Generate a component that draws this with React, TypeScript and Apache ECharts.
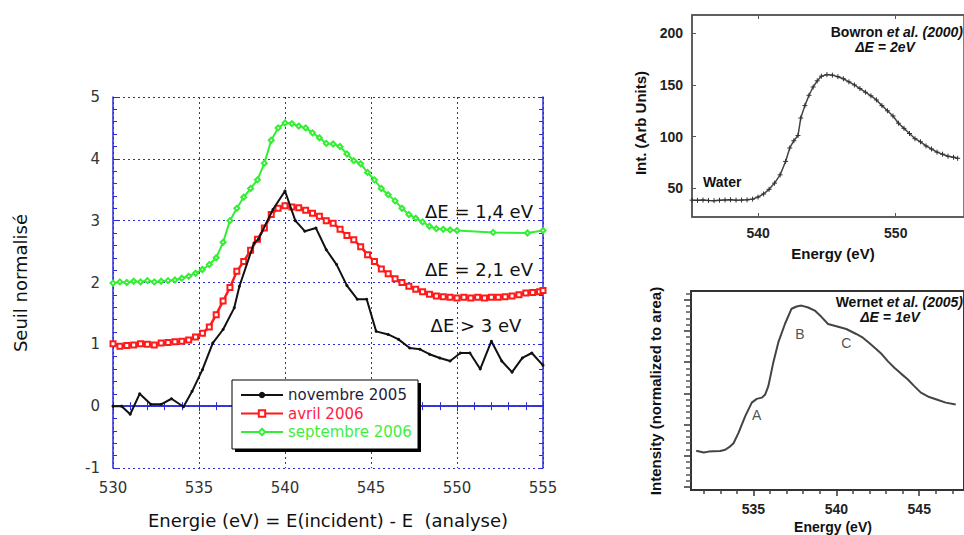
import React, { useEffect, useRef } from 'react';
import * as echarts from 'echarts';

// ---- Main chart (Seuil normalisé) ----
const novX = [530, 530.5, 531.0, 531.55, 532.2, 532.8, 533.4, 534.1, 534.6, 535.2, 535.8, 536.4, 537.05, 537.35, 538.2, 538.45, 539.3, 540.0, 540.6, 541.15, 541.8, 542.4, 543.0, 543.6, 544.2, 544.75, 545.3, 546.0, 546.6, 547.25, 547.85, 548.4, 549.0, 549.6, 550.2, 550.75, 551.35, 552.0, 552.6, 553.2, 553.8, 554.35, 555.0];
const novY = [0, 0, -0.13, 0.2, 0.03, 0.03, 0.12, -0.01, 0.24, 0.59, 1.02, 1.24, 1.59, 1.94, 2.64, 2.7, 3.18, 3.48, 3.0, 2.83, 2.88, 2.53, 2.29, 1.95, 1.73, 1.73, 1.21, 1.16, 1.08, 0.94, 0.92, 0.84, 0.78, 0.73, 0.86, 0.86, 0.6, 1.05, 0.73, 0.55, 0.78, 0.86, 0.66];

const avrX = [530.0, 530.4, 530.8, 531.2, 531.6, 532.0, 532.4, 532.8, 533.2, 533.6, 534.0, 534.4, 534.8, 535.2, 535.6, 536.0, 536.4, 536.8, 537.2, 537.6, 538.0, 538.4, 538.8, 539.2, 539.6, 540.0, 540.4, 540.8, 541.2, 541.6, 542.0, 542.4, 542.8, 543.2, 543.6, 544.0, 544.4, 544.8, 545.2, 545.6, 546.0, 546.4, 546.8, 547.2, 547.6, 548.0, 548.4, 548.8, 549.2, 549.6, 550.0, 550.4, 550.8, 551.2, 551.6, 552.0, 552.4, 552.8, 553.2, 553.6, 554.0, 554.4, 554.8, 555.0];
const avrY = [1.01, 0.97, 0.98, 0.99, 1.01, 1.0, 0.99, 1.02, 1.03, 1.04, 1.05, 1.07, 1.12, 1.18, 1.28, 1.48, 1.7, 1.92, 2.18, 2.34, 2.52, 2.7, 2.88, 3.1, 3.2, 3.24, 3.22, 3.21, 3.17, 3.12, 3.07, 3.0, 2.96, 2.86, 2.76, 2.69, 2.58, 2.45, 2.34, 2.22, 2.14, 2.06, 2.0, 1.94, 1.89, 1.85, 1.81, 1.78, 1.77, 1.76, 1.75, 1.76, 1.75, 1.76, 1.75, 1.76, 1.76, 1.77, 1.78, 1.8, 1.83, 1.84, 1.85, 1.87];

const sepX = [530.0, 530.4, 530.8, 531.2, 531.6, 532.0, 532.4, 532.8, 533.2, 533.6, 534.0, 534.4, 534.8, 535.2, 535.6, 536.0, 536.4, 536.8, 537.2, 537.6, 538.0, 538.4, 538.8, 539.2, 539.6, 540.0, 540.4, 540.8, 541.2, 541.6, 542.0, 542.4, 542.8, 543.2, 543.6, 544.0, 544.4, 544.8, 545.2, 545.6, 546.0, 546.4, 546.8, 547.2, 547.6, 548.0, 548.4, 548.8, 549.2, 549.6, 550.0, 552.1, 554.1, 555.0];
const sepY = [1.99, 2.01, 2.0, 2.02, 2.01, 2.03, 2.01, 2.02, 2.03, 2.04, 2.07, 2.1, 2.15, 2.21, 2.29, 2.4, 2.65, 3.0, 3.2, 3.38, 3.52, 3.66, 3.93, 4.3, 4.5, 4.58, 4.57, 4.53, 4.5, 4.42, 4.34, 4.25, 4.24, 4.2, 4.08, 3.97, 3.92, 3.78, 3.66, 3.52, 3.42, 3.32, 3.2, 3.1, 3.04, 2.98, 2.91, 2.87, 2.86, 2.85, 2.84, 2.81, 2.8, 2.84];

const seriesNames = ['novembre 2005', 'avril 2006', 'septembre 2006'];
const annotations = ['ΔE = 1,4 eV', 'ΔE = 2,1 eV', 'ΔE > 3 eV'];

// ---- Bowron et al. (2000) ----
const bowX = [535.2, 535.6, 536.0, 536.4, 536.8, 537.2, 537.6, 538.0, 538.4, 538.8, 539.2, 539.6, 540.0, 540.4, 540.8, 541.2, 541.6, 542.0, 542.3, 542.6, 542.9, 543.1, 543.4, 543.7, 544.0, 544.3, 544.6, 545.0, 545.4, 545.8, 546.2, 546.6, 547.0, 547.4, 547.8, 548.2, 548.6, 549.0, 549.4, 549.8, 550.2, 550.6, 551.0, 551.4, 551.8, 552.2, 552.6, 553.0, 553.4, 553.8, 554.2, 554.5];
const bowY = [38.5, 38.3, 38.6, 38.2, 38.0, 38.4, 38.7, 39.0, 38.5, 38.6, 38.8, 39.5, 41.5, 44.5, 49, 55, 63, 76, 89, 96, 101, 118, 130, 140, 148, 154, 158.5, 160, 159.5, 158, 156, 153, 150, 146.5, 143, 139.5, 135.5, 130, 125, 120, 113, 108, 103, 98, 95, 91, 88, 85, 83, 81, 80, 79];
const bowXTicks = [540, 550];
const bowYTicks = [50, 100, 150, 200];

// ---- Wernet et al. (2005) ----
const werX = [531.55, 532.0, 532.3, 532.6, 533.0, 533.3, 533.6, 533.8, 534.1, 534.5, 534.9, 535.2, 535.5, 535.7, 535.9, 536.2, 536.5, 536.9, 537.3, 537.6, 537.9, 538.3, 538.7, 539.1, 539.5, 540.0, 540.6, 541.2, 541.6, 541.95, 542.4, 542.75, 543.1, 543.5, 543.9, 544.3, 544.7, 545.1, 545.6, 546.05, 546.6, 547.2];
const werY = [1.26, 1.2, 1.23, 1.24, 1.25, 1.29, 1.4, 1.5, 1.83, 2.36, 2.8, 2.92, 2.96, 3.05, 3.33, 4.09, 4.73, 5.32, 5.81, 5.88, 5.91, 5.85, 5.75, 5.55, 5.32, 5.25, 5.16, 5.0, 4.88, 4.73, 4.52, 4.35, 4.13, 3.92, 3.73, 3.55, 3.33, 3.12, 2.98, 2.9, 2.8, 2.74];
const werXTicks = [535, 540, 545];
const werXMinor = [532, 533, 534, 536, 537, 538, 539, 541, 542, 543, 544, 546, 547];
const werYMajor = [0.1, 1.1, 2.1, 3.1, 4.1, 5.1, 6.1];
const werYMinor = [0.3, 0.5, 0.7, 0.9, 1.3, 1.5, 1.7, 1.9, 2.3, 2.5, 2.7, 2.9, 3.3, 3.5, 3.7, 3.9, 4.3, 4.5, 4.7, 4.9, 5.3, 5.5, 5.7, 5.9, 6.3];
const peakLabels = ['A', 'B', 'C'];
const peakX = [535.2, 537.8, 540.6];
const peakY = [2.4, 5.0, 4.7];

const zip = (xs: number[], ys: number[]) => xs.slice(0, Math.min(xs.length, ys.length)).map((x, i) => [x, ys[i]]);

const FONT = '"Liberation Sans", Arial, sans-serif';
const WIDE = '"DejaVu Sans", "Liberation Sans", sans-serif';
const BLUE = '#2b2bd9';

export default function App() {
  const ref = useRef<HTMLDivElement>(null);
  useEffect(() => {
    if (!ref.current) return;
    const chart = echarts.init(ref.current, undefined, { renderer: 'svg' });

    const mainTick = { show: true, inside: true, length: 5, lineStyle: { color: BLUE, width: 1 } };
    const mainMinor = { show: true, splitNumber: 5, length: 4, lineStyle: { color: BLUE, width: 1 } };
    const mainLine = { show: true, lineStyle: { color: BLUE, width: 1.5 } };
    const mainSplit = { show: true, lineStyle: { color: BLUE, width: 1, type: [2, 3] } };
    const grayLine = (c: string, w: number) => ({ show: true, lineStyle: { color: c, width: w } });

    const option: any = {
      animation: false,
      backgroundColor: '#ffffff',
      textStyle: { fontFamily: FONT },
      grid: [
        { left: 113, top: 97, width: 430, height: 371 },
        { left: 692, top: 15, width: 280, height: 202, show: true, borderColor: '#555', borderWidth: 1.5, backgroundColor: 'transparent' },
        { left: 691, top: 291, width: 280, height: 199, show: true, borderColor: '#333', borderWidth: 2, backgroundColor: 'transparent' },
      ],
      xAxis: [
        {
          type: 'value', gridIndex: 0, position: 'bottom', min: 530, max: 555, interval: 5,
          axisLine: mainLine, axisTick: mainTick, minorTick: mainMinor, splitLine: mainSplit,
          axisLabel: { margin: 12, fontSize: 15, color: '#333', fontFamily: WIDE },
        },
        {
          type: 'value', gridIndex: 0, position: 'top', min: 530, max: 555, interval: 5,
          axisLine: mainLine, axisTick: mainTick, minorTick: mainMinor, splitLine: { show: false },
          axisLabel: { show: false },
        },
        {
          type: 'value', gridIndex: 1, position: 'bottom', min: 535.2, max: 554.96,
          axisLine: grayLine('#555', 1.5),
          axisTick: { show: true, inside: true, length: 4, customValues: bowXTicks, lineStyle: { color: '#555' } },
          axisLabel: { customValues: bowXTicks, margin: 9, fontSize: 14, fontWeight: 'bold', color: '#222', fontFamily: FONT },
          splitLine: { show: false },
        },
        {
          type: 'value', gridIndex: 1, position: 'top', min: 535.2, max: 554.96,
          axisLine: grayLine('#555', 1.5),
          axisTick: { show: true, inside: true, length: 4, customValues: bowXTicks, lineStyle: { color: '#555' } },
          axisLabel: { show: false }, splitLine: { show: false },
        },
        {
          type: 'value', gridIndex: 2, position: 'bottom', min: 531.235, max: 547.7,
          axisLine: grayLine('#333', 2),
          axisTick: { show: true, inside: false, length: 6, customValues: werXTicks, lineStyle: { color: '#333', width: 1.5 } },
          axisLabel: { customValues: werXTicks, margin: 12, fontSize: 14, fontWeight: 'bold', color: '#222', fontFamily: FONT },
          splitLine: { show: false },
        },
        {
          type: 'value', gridIndex: 2, position: 'bottom', min: 531.235, max: 547.7,
          axisLine: { show: false },
          axisTick: { show: true, inside: false, length: 4, customValues: werXMinor, lineStyle: { color: '#444', width: 1.5 } },
          axisLabel: { show: false }, splitLine: { show: false },
        },
      ],
      yAxis: [
        {
          type: 'value', gridIndex: 0, position: 'left', min: -1, max: 5, interval: 1,
          axisLine: mainLine, axisTick: mainTick, minorTick: mainMinor, splitLine: mainSplit,
          axisLabel: { margin: 13, fontSize: 15, color: '#333', fontFamily: WIDE },
        },
        {
          type: 'value', gridIndex: 0, position: 'right', min: -1, max: 5, interval: 1,
          axisLine: mainLine, axisTick: mainTick, minorTick: mainMinor, splitLine: { show: false },
          axisLabel: { show: false },
        },
        {
          type: 'value', gridIndex: 1, position: 'left', min: 22.2, max: 217.7,
          axisLine: grayLine('#555', 1.5),
          axisTick: { show: true, inside: true, length: 4, customValues: bowYTicks, lineStyle: { color: '#555' } },
          axisLabel: { customValues: bowYTicks, margin: 9, fontSize: 14, fontWeight: 'bold', color: '#222', fontFamily: FONT },
          splitLine: { show: false },
        },
        {
          type: 'value', gridIndex: 2, position: 'left', min: 0, max: 6.378,
          axisLine: grayLine('#333', 2),
          axisTick: { show: true, inside: false, length: 7, customValues: werYMajor, lineStyle: { color: '#333', width: 1.5 } },
          axisLabel: { show: false }, splitLine: { show: false },
        },
        {
          type: 'value', gridIndex: 2, position: 'left', min: 0, max: 6.378,
          axisLine: { show: false },
          axisTick: { show: true, inside: false, length: 5, customValues: werYMinor, lineStyle: { color: '#555', width: 1.5 } },
          axisLabel: { show: false }, splitLine: { show: false },
        },
      ],
      legend: {
        orient: 'vertical', left: 240, top: 387, padding: 0, itemGap: 2.5, itemWidth: 42, itemHeight: 8,
        textStyle: { fontSize: 15, fontFamily: WIDE, lineHeight: 16, padding: [0, 0, 0, 0] },
        data: [
          { name: seriesNames[0], textStyle: { color: '#1e1e3c' } },
          { name: seriesNames[1], textStyle: { color: '#ff2244' } },
          { name: seriesNames[2], textStyle: { color: '#40ee40' } },
        ],
      },
      series: [
        {
          name: seriesNames[2], type: 'line', xAxisIndex: 0, yAxisIndex: 0, data: zip(sepX, sepY),
          symbol: 'emptyDiamond', symbolSize: 5, lineStyle: { color: '#33ee33', width: 2 },
          itemStyle: { color: '#33ee33', borderColor: '#33ee33', borderWidth: 1 }, z: 3,
        },
        {
          name: seriesNames[1], type: 'line', xAxisIndex: 0, yAxisIndex: 0, data: zip(avrX, avrY),
          symbol: 'emptyRect', symbolSize: 5, lineStyle: { color: '#ff1a1a', width: 2.5 },
          itemStyle: { color: '#ff1a1a', borderColor: '#ff1a1a', borderWidth: 1.2 }, z: 4,
        },
        {
          name: seriesNames[0], type: 'line', xAxisIndex: 0, yAxisIndex: 0, data: zip(novX, novY),
          symbol: 'circle', symbolSize: 3, lineStyle: { color: '#111', width: 2 },
          itemStyle: { color: '#111' }, z: 5,
        },
        {
          name: 'Bowron', type: 'line', xAxisIndex: 2, yAxisIndex: 2, data: zip(bowX, bowY),
          symbol: 'path://M0 5 L10 5 M5 0 L5 10', symbolSize: 5,
          lineStyle: { color: '#444', width: 1.5 },
          itemStyle: { color: '#333', borderColor: '#333', borderWidth: 1 },
        },
        {
          name: 'Wernet', type: 'line', xAxisIndex: 4, yAxisIndex: 3, data: zip(werX, werY),
          showSymbol: false, symbol: 'none', lineStyle: { color: '#444', width: 2 },
        },
        {
          name: 'WernetLabels', type: 'scatter', xAxisIndex: 4, yAxisIndex: 3,
          data: peakLabels.map((l, i) => ({ value: [peakX[i], peakY[i]], name: l })),
          symbolSize: 0,
          label: { show: true, position: 'inside', formatter: (p: any) => p.name, fontSize: 14, color: '#222', fontFamily: FONT },
        },
      ],
      graphic: [
        // legend box with shadow
        { type: 'rect', z: 3, shape: { x: 235, y: 383, width: 186, height: 69 }, style: { fill: '#000' } },
        { type: 'rect', z: 3, shape: { x: 232, y: 380, width: 186, height: 69 }, style: { fill: '#fff', stroke: '#000', lineWidth: 1 } },
        // main titles
        {
          type: 'text', x: 328, y: 520, z: 10,
          style: { text: 'Energie (eV) = E(incident) - E  (analyse)', font: `18px ${WIDE}`, fill: '#111', align: 'center', verticalAlign: 'middle' },
        },
        {
          type: 'text', x: 20, y: 283, rotation: Math.PI / 2, z: 10,
          style: { text: 'Seuil normalisé', font: `18px ${WIDE}`, fill: '#111', align: 'center', verticalAlign: 'middle' },
        },
        { type: 'text', x: 479, y: 211, z: 10, style: { text: annotations[0], font: `18px ${WIDE}`, fill: '#111', align: 'center', verticalAlign: 'middle' } },
        { type: 'text', x: 479, y: 269, z: 10, style: { text: annotations[1], font: `18px ${WIDE}`, fill: '#111', align: 'center', verticalAlign: 'middle' } },
        { type: 'text', x: 476, y: 325, z: 10, style: { text: annotations[2], font: `18px ${WIDE}`, fill: '#111', align: 'center', verticalAlign: 'middle' } },
        // Bowron texts
        {
          type: 'text', x: 963, y: 32, z: 10,
          style: {
            text: '{a|Bowron }{b|et al. (2000)}', align: 'right', verticalAlign: 'middle',
            rich: { a: { font: `bold 14px ${FONT}`, fill: '#111' }, b: { font: `italic bold 14px ${FONT}`, fill: '#111' } },
          },
        },
        { type: 'text', x: 885, y: 47, z: 10, style: { text: 'ΔE = 2eV', font: `italic bold 14px ${FONT}`, fill: '#111', align: 'center', verticalAlign: 'middle' } },
        { type: 'text', x: 703, y: 182, z: 10, style: { text: 'Water', font: `bold 14px ${FONT}`, fill: '#111', align: 'left', verticalAlign: 'middle' } },
        { type: 'text', x: 833, y: 253, z: 10, style: { text: 'Energy (eV)', font: `bold 15px ${FONT}`, fill: '#111', align: 'center', verticalAlign: 'middle' } },
        {
          type: 'text', x: 640, y: 123, rotation: Math.PI / 2, z: 10,
          style: { text: 'Int. (Arb Units)', font: `bold 15px ${FONT}`, fill: '#111', align: 'center', verticalAlign: 'middle' },
        },
        // Wernet texts
        {
          type: 'text', x: 963, y: 302, z: 10,
          style: {
            text: '{a|Wernet }{b|et al. (2005)}', align: 'right', verticalAlign: 'middle',
            rich: { a: { font: `bold 14px ${FONT}`, fill: '#111' }, b: { font: `italic bold 14px ${FONT}`, fill: '#111' } },
          },
        },
        { type: 'text', x: 890, y: 317, z: 10, style: { text: 'ΔE = 1eV', font: `italic bold 14px ${FONT}`, fill: '#111', align: 'center', verticalAlign: 'middle' } },
        { type: 'text', x: 833, y: 527, z: 10, style: { text: 'Energy (eV)', font: `bold 14px ${FONT}`, fill: '#111', align: 'center', verticalAlign: 'middle' } },
        {
          type: 'text', x: 655, y: 391, rotation: Math.PI / 2, z: 10,
          style: { text: 'Intensity (normalized to area)', font: `bold 15px ${FONT}`, fill: '#111', align: 'center', verticalAlign: 'middle' },
        },
      ],
    };
    chart.setOption(option);
    return () => chart.dispose();
  }, []);
  return <div ref={ref} style={{ position: 'fixed', left: 0, top: 0, width: 964, height: 535 }} />;
}
